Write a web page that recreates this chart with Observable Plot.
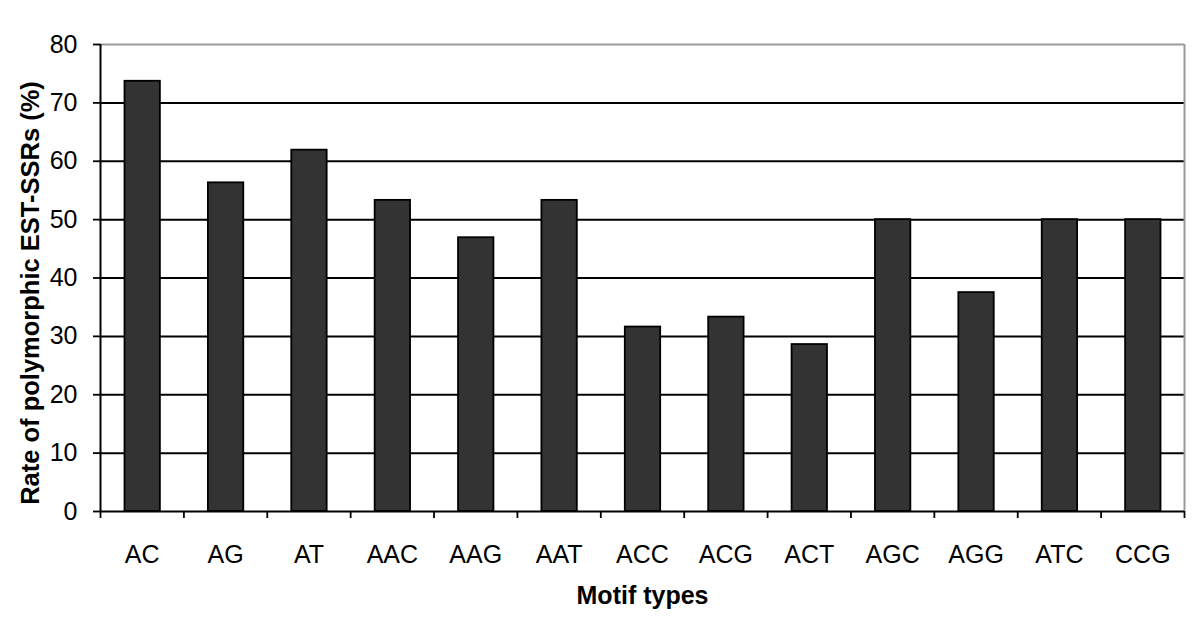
<!DOCTYPE html>
<html>
<head>
<meta charset="utf-8">
<script src="https://cdn.jsdelivr.net/npm/d3@7"></script>
<script src="https://cdn.jsdelivr.net/npm/@observablehq/plot@0.6"></script>
<style>
  html, body { margin: 0; padding: 0; background: #fff; }
  svg { display: block; }
</style>
</head>
<body>
<div id="chart"></div>
<script>
const categories = ["AC", "AG", "AT", "AAC", "AAG", "AAT", "ACC", "ACG", "ACT", "AGC", "AGG", "ATC", "CCG"];
const values = [73.7, 56.3, 61.9, 53.3, 46.9, 53.3, 31.6, 33.3, 28.6, 50, 37.5, 50, 50];
const yTicks = [0, 10, 20, 30, 40, 50, 60, 70, 80];
const gridTicks = [10, 20, 30, 40, 50, 60, 70];
const xLabel = "Motif types";
const yLabel = "Rate of polymorphic EST-SSRs (%)";

const data = categories.map((c, i) => ({cat: c, i, value: values[i]}));
const boundaries = d3.range(categories.length + 1);
const centers = categories.map((c, i) => i + 0.5);

const chart = Plot.plot({
  width: 1200,
  height: 630,
  marginLeft: 100,
  marginRight: 16,
  marginTop: 44,
  marginBottom: 119,
  style: {fontFamily: "'Liberation Sans', Arial, sans-serif", background: "#fff", color: "#000"},
  x: {type: "linear", domain: [0, categories.length], axis: null},
  y: {domain: [0, 80], axis: null},
  marks: [
    Plot.ruleY(gridTicks, {stroke: "#000", strokeWidth: 2}),
    Plot.ruleY([80], {stroke: "#9a9a9a", strokeWidth: 2}),
    Plot.ruleX([categories.length], {stroke: "#9a9a9a", strokeWidth: 2}),
    Plot.rectY(data, {x1: d => d.i, x2: d => d.i + 1, y: "value", insetLeft: 24.5, insetRight: 23.5,
      fill: "#333333", stroke: "#000", strokeWidth: 1.8}),
    Plot.ruleX([0], {stroke: "#000", strokeWidth: 2}),
    Plot.ruleY([0], {stroke: "#000", strokeWidth: 2}),
    Plot.axisY(yTicks, {tickSize: 7, tickPadding: 16, fontSize: 25, label: null, stroke: "#000", strokeWidth: 1.8, fill: "#000"}),
    Plot.axisX(boundaries, {tickSize: 7, tickFormat: () => "", label: null, stroke: "#000", strokeWidth: 1.8}),
    Plot.axisX(centers, {tickSize: 0, tickPadding: 34, fontSize: 25, label: null, fill: "#000",
      tickFormat: d => categories[Math.floor(d)]}),
    Plot.text([xLabel], {frameAnchor: "bottom", dy: 84, fontSize: 25, fontWeight: "bold", fill: "#000", lineAnchor: "middle"}),
    Plot.text([yLabel], {frameAnchor: "left", dx: -70, dy: 15, rotate: -90, textAnchor: "middle", fontSize: 25.5, fontWeight: "bold", fill: "#000", lineAnchor: "middle"})
  ]
});
document.getElementById("chart").appendChild(chart);
</script>
</body>
</html>
